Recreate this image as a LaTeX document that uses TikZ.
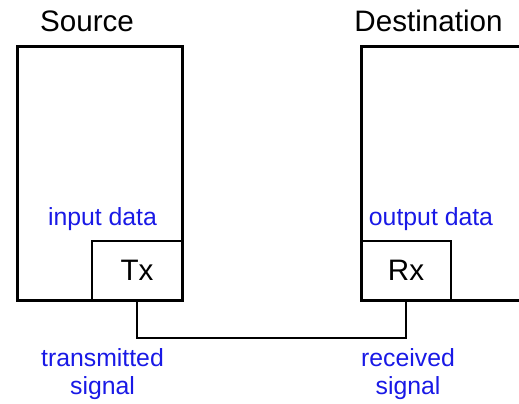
\documentclass[tikz,border=0pt]{standalone}
\usepackage{fontspec}
\setmainfont{Liberation Sans}
\usetikzlibrary{positioning}
\definecolor{labelblue}{RGB}{25,25,230}

\begin{document}
\begin{tikzpicture}[x=0.5pt,y=0.5pt,yscale=-1,xscale=1,
  outerbox/.style={draw=black,line width=1.5pt,inner sep=0pt,outer sep=0pt,minimum width=82.5pt,minimum height=127pt},
  innerbox/.style={draw=black,line width=1pt,inner sep=0pt,outer sep=0pt,minimum width=45pt,minimum height=29.5pt,font=\fontsize{14.8}{17}\selectfont},
  titletext/.style={inner sep=0pt,font=\fontsize{14.8}{17}\selectfont},
  bluetext/.style={inner sep=0pt,text=labelblue,align=center,font=\fontsize{12.4}{14}\selectfont},
  wire/.style={line width=1pt,color=black}]

\useasboundingbox (0,0) rectangle (519,403);

% Boxes
\node [outerbox,anchor=north west] (src) at (17,46) {};
\node [innerbox,anchor=south east] (tx) at (src.south east) {Tx};
\node [outerbox,anchor=north west,minimum width=100pt] (dst) at (361,46) {};
\node [innerbox,anchor=south west] (rx) at (dst.south west) {Rx};

% Text Node
\node [titletext,anchor=base] (srclabel) at (87,31) {Source};
\node [titletext,anchor=base] (dstlabel) at (428.5,31) {Destination};
\node [bluetext,anchor=base] (indata) at (102.5,225) {input data};
\node [bluetext,anchor=base] (outdata) at (431,225) {output data};
\node [bluetext,anchor=north] (txsignal) at (102.5,348) {transmitted\\signal};
\node [bluetext,anchor=north] (rxsignal) at (408,348) {received\\signal};

% Link
\draw [wire] (tx.south) -- ++(0,38) -| (rx.south);

\end{tikzpicture}
\end{document}
